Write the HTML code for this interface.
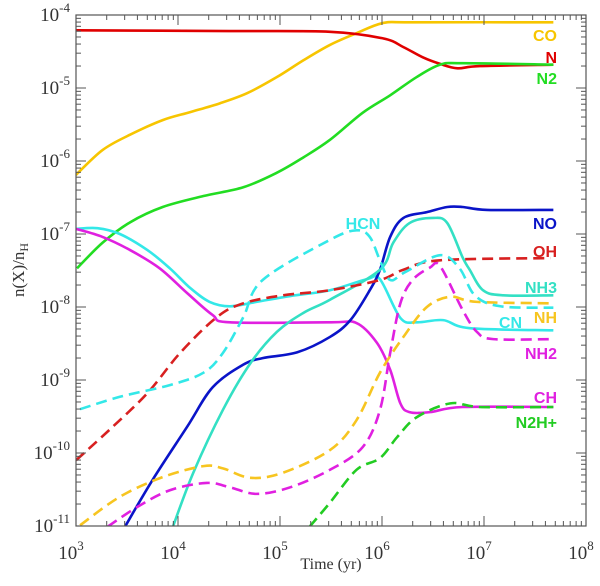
<!DOCTYPE html>
<html><head><meta charset="utf-8"><style>
body{margin:0;background:#fff;width:600px;height:581px;overflow:hidden}
.ser{font-family:"Liberation Serif",serif}
.san{font-family:"Liberation Sans",sans-serif}
</style></head><body>
<svg id="chart" width="600" height="581" viewBox="0 0 600 581" xmlns="http://www.w3.org/2000/svg">
<defs><clipPath id="pc"><rect x="76" y="15" width="510" height="511"/></clipPath></defs>
<g id="series" clip-path="url(#pc)"></g>
<g id="axes"></g>
<g id="labels"></g>
</svg>
<script>
// data: [log10(time/yr), log10(n/nH)]
const xTicks=[3,4,5,6,7,8];
const yTicks=[-4,-5,-6,-7,-8,-9,-10,-11];
const CO=[[3.0,-6.19],[3.26,-5.85],[3.53,-5.64],[3.85,-5.44],[4.12,-5.33],[4.41,-5.21],[4.68,-5.07],[4.97,-4.85],[5.23,-4.62],[5.49,-4.41],[5.75,-4.25],[6.01,-4.11],[6.30,-4.10],[7.68,-4.10]];
const N=[[3.0,-4.21],[4.5,-4.22],[5.49,-4.23],[6.01,-4.32],[6.21,-4.44],[6.40,-4.58],[6.57,-4.67],[6.74,-4.73],[6.96,-4.70],[7.68,-4.68]];
const N2=[[3.01,-7.47],[3.26,-7.12],[3.53,-6.84],[3.85,-6.63],[4.25,-6.48],[4.64,-6.36],[4.97,-6.16],[5.23,-5.95],[5.49,-5.71],[5.81,-5.34],[6.08,-5.10],[6.34,-4.85],[6.57,-4.68],[6.79,-4.66],[7.68,-4.68]];
const CN=[[3.0,-6.93],[3.21,-6.92],[3.43,-7.0],[3.70,-7.22],[3.92,-7.47],[4.12,-7.74],[4.31,-7.93],[4.51,-7.99],[4.77,-7.93],[5.10,-7.85],[5.49,-7.77],[5.85,-7.62],[5.98,-7.62],[6.18,-8.15],[6.34,-8.21],[6.60,-8.18],[6.86,-8.29],[7.68,-8.32]];
const CH=[[3.0,-6.93],[3.26,-7.04],[3.53,-7.22],[3.82,-7.47],[4.09,-7.81],[4.34,-8.11],[4.51,-8.21],[5.49,-8.21],[5.75,-8.22],[5.95,-8.49],[6.08,-8.86],[6.18,-9.32],[6.27,-9.44],[6.47,-9.44],[6.79,-9.37],[7.68,-9.37]];
const NO=[[3.48,-11.01],[3.75,-10.37],[4.09,-9.64],[4.34,-9.10],[4.64,-8.79],[4.83,-8.70],[5.17,-8.62],[5.49,-8.41],[5.69,-8.18],[5.88,-7.77],[5.98,-7.49],[6.08,-7.04],[6.21,-6.78],[6.44,-6.70],[6.64,-6.63],[6.79,-6.63],[7.03,-6.67],[7.68,-6.67]];
const NH3=[[3.95,-11.01],[4.15,-10.27],[4.44,-9.41],[4.71,-8.77],[4.97,-8.34],[5.23,-8.08],[5.49,-7.90],[5.98,-7.49],[6.11,-7.12],[6.27,-6.85],[6.50,-6.78],[6.64,-6.85],[6.79,-7.32],[6.86,-7.49],[6.99,-7.77],[7.19,-7.84],[7.68,-7.84]];
const NH2=[[3.31,-11.01],[3.60,-10.74],[3.92,-10.51],[4.28,-10.41],[4.51,-10.47],[4.77,-10.56],[5.10,-10.47],[5.49,-10.23],[5.81,-9.92],[5.98,-9.41],[6.08,-8.63],[6.18,-7.95],[6.30,-7.63],[6.47,-7.46],[6.57,-7.44],[6.79,-8.04],[6.93,-8.34],[7.09,-8.44],[7.68,-8.44]];
const NH=[[3.04,-10.99],[3.43,-10.60],[3.85,-10.33],[4.25,-10.18],[4.44,-10.21],[4.71,-10.34],[5.03,-10.27],[5.49,-9.96],[5.75,-9.55],[5.98,-8.90],[6.21,-8.41],[6.44,-8.0],[6.67,-7.86],[6.93,-7.93],[7.68,-7.95]];
const N2H=[[5.29,-11.01],[5.49,-10.68],[5.75,-10.23],[5.98,-10.07],[6.15,-9.78],[6.34,-9.51],[6.67,-9.32],[6.96,-9.37],[7.68,-9.37]];
const OH=[[3.0,-10.10],[3.33,-9.68],[3.70,-9.18],[4.02,-8.63],[4.38,-8.14],[4.64,-7.95],[5.03,-7.84],[5.49,-7.77],[5.98,-7.63],[6.21,-7.49],[6.57,-7.36],[7.65,-7.33]];
const HCN=[[3.04,-9.40],[3.43,-9.23],[3.92,-9.07],[4.25,-8.90],[4.44,-8.63],[4.64,-8.14],[4.83,-7.63],[5.49,-7.08],[5.75,-6.95],[5.88,-7.04],[5.98,-7.36],[6.08,-7.63],[6.23,-7.52],[6.57,-7.29],[6.76,-7.47],[6.91,-7.84],[7.16,-7.99],[7.68,-8.01]];

const X0=76,X1=586,Y0=15,Y1=526;
const sx=v=>X0+(v-3)/5*(X1-X0);
const sy=v=>Y0+(-4-v)/7*(Y1-Y0);
const NS="http://www.w3.org/2000/svg";
function mk(t,a,p){const e=document.createElementNS(NS,t);for(const k in a)e.setAttribute(k,a[k]);p.appendChild(e);return e;}
function pathD(d){const p=d.map(q=>[sx(q[0]),sy(q[1])]);let s="M"+p[0][0]+","+p[0][1];
for(let i=0;i<p.length-1;i++){const a=p[Math.max(i-1,0)],b=p[i],c=p[i+1],e=p[Math.min(i+2,p.length-1)];
s+=" C"+(b[0]+(c[0]-a[0])/6)+","+(b[1]+(c[1]-a[1])/6)+" "+(c[0]-(e[0]-b[0])/6)+","+(c[1]-(e[1]-b[1])/6)+" "+c[0]+","+c[1];}return s;}
const sg=document.getElementById('series');
const defs=[["CO",CO,"#f7c500",false],["N",N,"#e00000",false],["N2",N2,"#22dd22",false],["CN",CN,"#33e8e8",false],["CH",CH,"#e020e0",false],["NO",NO,"#0a14c8",false],["NH3",NH3,"#33e0c4",false],["NH2",NH2,"#e020e0",true],["NH",NH,"#f7c520",true],["N2H+",N2H,"#22cc22",true],["OH",OH,"#d82020",true],["HCN",HCN,"#33e8e8",true]];
defs.forEach(([n,d,c,dash])=>{const a={d:pathD(d),fill:"none",stroke:c,"stroke-width":2.6};if(dash)a["stroke-dasharray"]="11,6";
const el=mk("path",a,sg);

});
// axes
const ax=document.getElementById('axes');
const fr=mk("rect",{x:X0,y:Y0,width:X1-X0,height:Y1-Y0,fill:"none",stroke:"#555","stroke-width":1.2},ax);


xTicks.forEach((v,i)=>{const x=sx(v);
mk("line",{x1:x,y1:Y1,x2:x,y2:Y1-10,stroke:"#555"},ax);mk("line",{x1:x,y1:Y0,x2:x,y2:Y0+10,stroke:"#555"},ax);
if(i<xTicks.length-1)for(let m=2;m<10;m++){const xm=sx(v+Math.log10(m));mk("line",{x1:xm,y1:Y1,x2:xm,y2:Y1-5,stroke:"#555"},ax);mk("line",{x1:xm,y1:Y0,x2:xm,y2:Y0+5,stroke:"#555"},ax);}
const t=mk("text",{x:x-5,y:Y1+33,"font-size":19,"text-anchor":"middle",fill:"#333","class":"ser"},ax);


t.innerHTML='10<tspan dy="-9" font-size="13">'+v+'</tspan>';});
yTicks.forEach((v,i)=>{const y=sy(v);
mk("line",{x1:X0,y1:y,x2:X0+10,y2:y,stroke:"#555"},ax);mk("line",{x1:X1,y1:y,x2:X1-10,y2:y,stroke:"#555"},ax);
if(i<yTicks.length-1)for(let m=2;m<10;m++){const ym=sy(v-1+Math.log10(m));mk("line",{x1:X0,y1:ym,x2:X0+5,y2:ym,stroke:"#555"},ax);mk("line",{x1:X1,y1:ym,x2:X1-5,y2:ym,stroke:"#555"},ax);}
const t=mk("text",{x:X0-6,y:y+6,"font-size":19,"text-anchor":"end",fill:"#333","class":"ser"},ax);


t.innerHTML='10<tspan dy="-9" font-size="13">'+v+'</tspan>';});
const xt=mk("text",{x:331,y:569,"font-size":16,"text-anchor":"middle",fill:"#333","class":"ser"},ax);


xt.textContent="Time (yr)";
const yt=mk("text",{x:0,y:0,"font-size":17,"text-anchor":"middle",fill:"#333","class":"ser",transform:"translate(24,270) rotate(-90)"},ax);


yt.innerHTML='n(X)/n<tspan dy="4" font-size="12">H</tspan>';
// labels
const lb=document.getElementById('labels');
const labs=[["CO",557,41,"#f7c500","end"],["N",557,63,"#e00000","end"],["N2",557,84,"#22dd22","end"],["NO",557,229,"#0a14c8","end"],["OH",557,257,"#d82020","end"],["NH3",557,293,"#33e0c4","end"],["NH",557,323,"#f7c520","end"],["CN",522,328,"#33e8e8","end"],["NH2",557,359,"#e020e0","end"],["CH",557,403,"#e020e0","end"],["N2H+",557,428,"#22cc22","end"],["HCN",363,229,"#33e8e8","middle"]];
labs.forEach(([n,x,y,c,a])=>{const t=mk("text",{x:x,y:y,fill:c,"font-size":16,"font-weight":"bold","text-anchor":a,"class":"san"},lb);


t.textContent=n;});
</script>
</body></html>
